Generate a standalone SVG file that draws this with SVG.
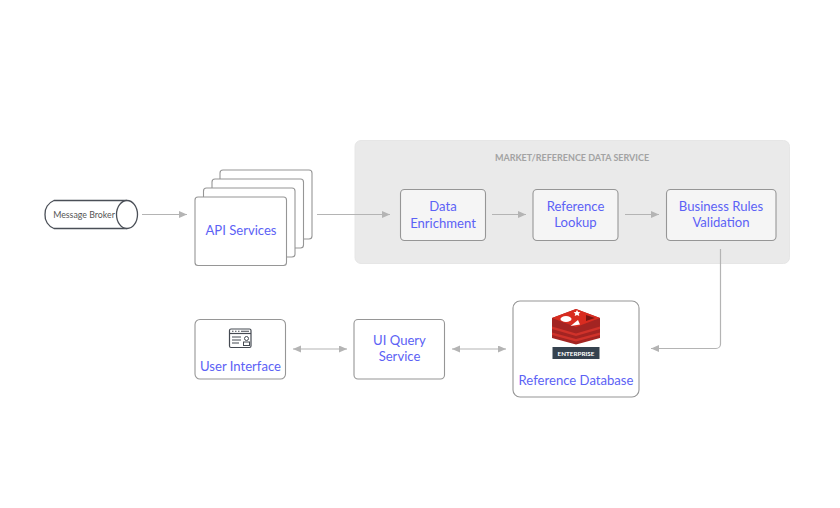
<svg xmlns="http://www.w3.org/2000/svg" width="840" height="508" viewBox="0 0 840 508">
<defs>
<marker id="arr" markerUnits="userSpaceOnUse" markerWidth="9" markerHeight="8" refX="8" refY="3.5" orient="auto-start-reverse"><path d="M0 0L8 3.5L0 7Z" fill="#b4b4b4"/></marker>
</defs>
<style>
.box{fill:#fff;stroke:#969696;stroke-width:1.1}
.inner{fill:#f5f5f5;stroke:#969696;stroke-width:1.1}
.lbl{font-family:Lato,"Open Sans","Liberation Sans",sans-serif;font-size:13.1px;fill:#5c62f5;text-anchor:middle}
.con{fill:none;stroke:#b4b4b4;stroke-width:1.2}
</style>
<rect width="840" height="508" fill="#fff"/>
<g id="service-group">
<rect x="355" y="140.500" width="434.500" height="123" rx="6" fill="#eaeaea" stroke="#e6e6e6"/>
<text x="572" y="161" text-anchor="middle" style="font-family:Lato,'Liberation Sans',sans-serif;font-size:9px;font-weight:700;fill:#a3a3a3">MARKET/REFERENCE DATA SERVICE</text>
</g>
<g id="message-broker">
<path d="M127 200.500H54a14 14 0 0 0 -9 14a14 14 0 0 0 9 14H127" fill="#fff" stroke="#4a4f57" stroke-width="1.300"/>
<ellipse cx="127" cy="214.500" rx="10.500" ry="14" fill="#fff" stroke="#4a4f57" stroke-width="1.300"/>
<text x="84" y="217.500" text-anchor="middle" style="font-family:Lato,'Liberation Sans',sans-serif;font-size:8.800px;fill:#555">Message Broker</text>
</g>
<g id="api-services">
<rect class="box" x="220" y="170" width="92" height="69" rx="3"/>
<rect class="box" x="212" y="179" width="91.500" height="69" rx="3"/>
<rect class="box" x="203.500" y="188" width="91.500" height="69" rx="3"/>
<rect class="box" x="195" y="197" width="91.500" height="68.500" rx="3"/>
<text class="lbl" x="241" y="235">API Services</text>
</g>
<g id="data-enrichment">
<rect class="inner" x="400.500" y="189.500" width="85" height="51" rx="4"/>
<text class="lbl" x="443" y="211">Data</text>
<text class="lbl" x="443" y="227.500">Enrichment</text>
</g>
<g id="reference-lookup">
<rect class="inner" x="533" y="189.500" width="85" height="51" rx="4"/>
<text class="lbl" x="575.500" y="210.500">Reference</text>
<text class="lbl" x="575.500" y="227">Lookup</text>
</g>
<g id="business-rules">
<rect class="inner" x="666.500" y="189.500" width="109.500" height="51" rx="4"/>
<text class="lbl" x="721" y="210.500">Business Rules</text>
<text class="lbl" x="721" y="227">Validation</text>
</g>
<g id="user-interface">
<rect class="box" x="195" y="319.500" width="90.500" height="59.500" rx="5"/>
<rect x="229.500" y="329" width="21.500" height="18.500" rx="1.500" fill="none" stroke="#454a52" stroke-width="1.200"/>
<path d="M229.500 333.500H251" stroke="#454a52" stroke-width="1.200" fill="none"/>
<path d="M232 331.200h1.500M235 331.200h1.500M238 331.200h1.500M241 331.200h8" stroke="#454a52" stroke-width="1.100" fill="none"/>
<path d="M232 337h9M232 340h9M232 343h7" stroke="#454a52" stroke-width="1.100" fill="none"/>
<circle cx="246.500" cy="338.500" r="2" fill="none" stroke="#454a52"/>
<rect x="243.500" y="342" width="6" height="3.500" fill="none" stroke="#454a52"/>
<text class="lbl" x="240.500" y="371">User Interface</text>
</g>
<g id="ui-query-service">
<rect class="box" x="354" y="319.500" width="90.500" height="59.500" rx="4"/>
<text class="lbl" x="399.500" y="344.500">UI Query</text>
<text class="lbl" x="399.500" y="361">Service</text>
</g>
<g id="reference-database">
<rect class="box" x="513" y="301" width="126" height="96" rx="7"/>
<path d="M552 318L576 309L600 318V338L576 344.500L552 338Z" fill="#a32422"/>
<path d="M552 332.500L576 339L600 332.500V335L576 341.500L552 335Z" fill="#d0322a"/>
<path d="M552 326.500L576 333.500L600 326.500V329L576 336L552 329Z" fill="#d0322a"/>
<path d="M552 318L576 309L600 318L576 327Z" fill="#d82c20"/>
<path d="M577 310l1.100 1.900l2.300.3l-1.700 1.500l.6 2.300l-2.300-1.100l-2.300 1.100l.6-2.300l-1.700-1.500l2.300-.3Z" fill="#fff"/>
<ellipse cx="566" cy="319" rx="5.500" ry="3" fill="#fff"/>
<path d="M570.500 326L580 324.500L578 320Z" fill="#fff"/>
<path d="M586 315L595 318L586 321Z" fill="#7a1512"/>
<rect x="552.500" y="347" width="47" height="12" fill="#35424f"/>
<text x="576" y="355.500" text-anchor="middle" style="font-family:Lato,'Liberation Sans',sans-serif;font-size:6.300px;font-weight:700;fill:#fff">ENTERPRISE</text>
<text class="lbl" x="576" y="384.500">Reference Database</text>
</g>
<g id="connectors">
<path class="con" marker-end="url(#arr)" d="M142 214.500H187"/>
<path class="con" marker-end="url(#arr)" d="M317 214.500H390"/>
<path class="con" marker-end="url(#arr)" d="M492 214.500H526"/>
<path class="con" marker-end="url(#arr)" d="M625 214.500H659"/>
<path class="con" marker-end="url(#arr)" d="M720.500 249V344a4.500 4.500 0 0 1 -4.500 4.500H651"/>
<path class="con" marker-start="url(#arr)" marker-end="url(#arr)" d="M293 349H347"/>
<path class="con" marker-start="url(#arr)" marker-end="url(#arr)" d="M452 349H506"/>
</g>
</svg>
